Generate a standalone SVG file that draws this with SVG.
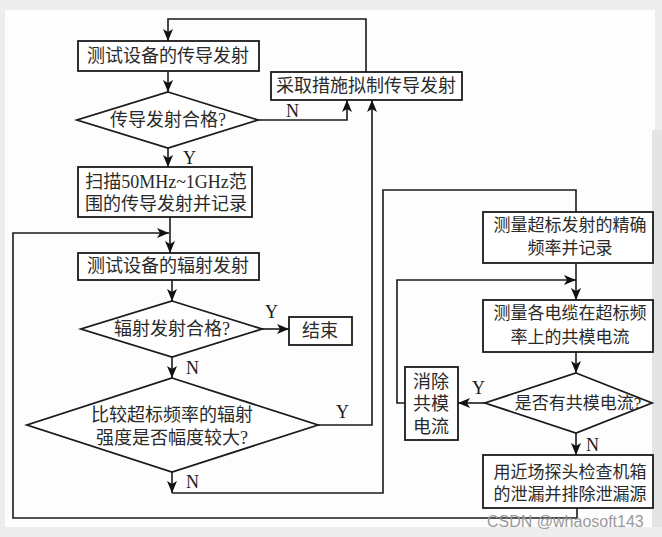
<svg xmlns="http://www.w3.org/2000/svg" width="662" height="537" viewBox="0 0 662 537">
<defs>
<marker id="ah" viewBox="0 0 12 10" refX="12" refY="5" markerWidth="12" markerHeight="10" markerUnits="userSpaceOnUse" orient="auto">
<path d="M0,0 L12,5 L0,10 L3,5 Z" fill="#111"/>
</marker>
<style>
.b{fill:#fff;stroke:#1a1a1a;stroke-width:1.8}
.t{font-family:"Liberation Serif","Noto Sans CJK SC",serif;font-size:18px;fill:#2a2a2a;text-anchor:middle;dominant-baseline:central}
.s{font-size:17px}
.l{font-family:"Liberation Serif",serif;font-size:18px;fill:#1a1a1a;dominant-baseline:central}
.c{fill:none;stroke:#1a1a1a;stroke-width:1.6}
</style>
</defs>
<rect x="0" y="0" width="662" height="537" fill="#ededed"/>
<rect x="5" y="10" width="650" height="517" fill="#fdfdfd"/>
<rect x="652" y="130" width="10" height="397" fill="#e4e4e4"/>

<g id="connectors">
<path class="c" d="M366,72 V19 H168 V41" marker-end="url(#ah)"/>
<path class="c" d="M168,71 V92" marker-end="url(#ah)"/>
<path class="c" d="M258,120 H347 V100" marker-end="url(#ah)"/>
<path class="c" d="M168,148 V167" marker-end="url(#ah)"/>
<path class="c" d="M170,217 V253" marker-end="url(#ah)"/>
<path class="c" d="M577,508 V518 H13 V233 H169" marker-end="url(#ah)"/>
<path class="c" d="M172,280 V301" marker-end="url(#ah)"/>
<path class="c" d="M262,329 H289" marker-end="url(#ah)"/>
<path class="c" d="M172,357 V378" marker-end="url(#ah)"/>
<path class="c" d="M318,425 H372 V100" marker-end="url(#ah)"/>
<path class="c" d="M172,472 V493" marker-end="url(#ah)"/>
<path class="c" d="M172,493 H383 V190 H576 V212"/>
<path class="c" d="M576,263 V300" marker-end="url(#ah)"/>
<path class="c" d="M405,403 H397 V280 H576" marker-end="url(#ah)"/>
<path class="c" d="M576,352 V373" marker-end="url(#ah)"/>
<path class="c" d="M485,403 H458" marker-end="url(#ah)"/>
<path class="c" d="M576,433 V455" marker-end="url(#ah)"/>
<text class="l" x="286" y="111">N</text>
<text class="l" x="183" y="158">Y</text>
<text class="l" x="265" y="312">Y</text>
<text class="l" x="186" y="368">N</text>
<text class="l" x="336" y="412">Y</text>
<text class="l" x="186" y="482">N</text>
<text class="l" x="472" y="388">Y</text>
<text class="l" x="586" y="445">N</text>
</g>

<g id="n1"><rect class="b" x="78" y="41" width="181" height="30"/><text class="t" x="168" y="56">测试设备的传导发射</text></g>
<g id="n2"><rect class="b" x="271" y="72" width="191" height="28"/><text class="t" x="366" y="86">采取措施拟制传导发射</text></g>
<g id="n3"><polygon class="b" points="168,92 258,120 168,148 77,120"/><text class="t" x="168" y="120">传导发射合格?</text></g>
<g id="n4"><rect class="b" x="78" y="167" width="174" height="50"/><text class="t" x="166" y="182">扫描50MHz~1GHz范</text><text class="t" x="166" y="204">围的传导发射并记录</text></g>
<g id="n5"><rect class="b" x="78" y="253" width="181" height="27"/><text class="t" x="168" y="266">测试设备的辐射发射</text></g>
<g id="n6"><polygon class="b" points="172,301 262,329 172,357 81,329"/><text class="t" x="172" y="329">辐射发射合格?</text></g>
<g id="n7"><rect class="b" x="289" y="317" width="63" height="28"/><text class="t" x="320" y="331">结束</text></g>
<g id="n8"><polygon class="b" points="172,378 318,425 172,472 27,425"/><text class="t" x="172" y="415">比较超标频率的辐射</text><text class="t" x="172" y="438">强度是否幅度较大?</text></g>
<g id="n9"><rect class="b" x="483" y="212" width="170" height="51"/><text class="t s" x="570" y="225">测量超标发射的精确</text><text class="t s" x="570" y="248">频率并记录</text></g>
<g id="n10"><rect class="b" x="483" y="300" width="170" height="52"/><text class="t s" x="570" y="313">测量各电缆在超标频</text><text class="t s" x="570" y="337">率上的共模电流</text></g>
<g id="n11"><polygon class="b" points="576,373 652,403 576,433 485,403"/><text class="t s" x="578" y="403">是否有共模电流?</text></g>
<g id="n12"><rect class="b" x="405" y="367" width="53" height="73"/><text class="t" x="431" y="382">消除</text><text class="t" x="431" y="404">共模</text><text class="t" x="431" y="427">电流</text></g>
<g id="n13"><rect class="b" x="483" y="455" width="170" height="53"/><text class="t s" x="570" y="472">用近场探头检查机箱</text><text class="t s" x="570" y="494">的泄漏并排除泄漏源</text></g>

<text x="487" y="527" font-family="Liberation Sans, sans-serif" font-size="16" fill="#9a9a9a">CSDN @whaosoft143</text>
</svg>
